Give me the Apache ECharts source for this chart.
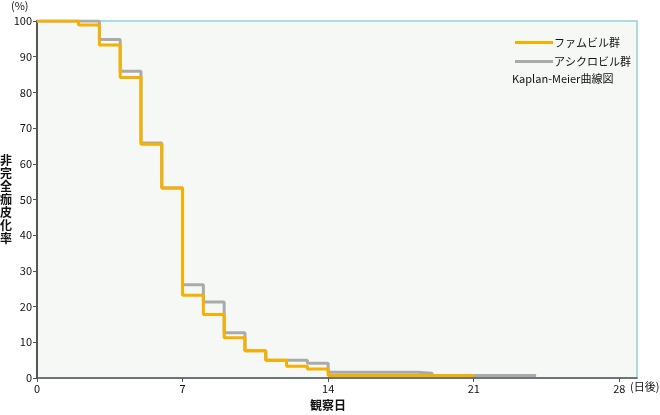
<!DOCTYPE html>
<html>
<head>
<meta charset="utf-8">
<script src="https://cdn.jsdelivr.net/npm/echarts@6/dist/echarts.min.js"></script>
<style>
html,body{margin:0;padding:0;background:#fff;}
#chart{width:660px;height:415px;}
</style>
</head>
<body>
<div id="chart"></div>
<script>
// Data
var famDays = [0, 2, 3, 4, 5, 6, 7, 8, 9, 10, 11, 12, 13, 14, 21];
var famValues = [100, 98.9, 93.3, 84.2, 65.5, 53.2, 23.2, 17.8, 11.3, 7.6, 5.0, 3.3, 2.5, 0.7, 0.7];
var acyDays = [0, 3, 4, 5, 6, 7, 8, 9, 10, 11, 13, 14, 18.3, 19, 24];
var acyValues = [100, 94.8, 85.9, 65.8, 53.2, 26.1, 21.3, 12.7, 7.6, 5.0, 4.1, 1.6, 1.3, 0.7, 0.7];
var xTicks = [0, 7, 14, 21, 28];
var seriesNames = ['ファムビル群', 'アシクロビル群'];

function pairs(xs, ys) { return xs.map(function (x, i) { return [x, ys[i]]; }); }

var FONT = '"Noto Sans CJK JP", sans-serif';
var chart = echarts.init(document.getElementById('chart'), null, {renderer: 'canvas'});
chart.setOption({
  animation: false,
  backgroundColor: '#ffffff',
  grid: {
    left: 37, right: 23, top: 21, bottom: 37,
    show: true, backgroundColor: '#f5f8f5', borderColor: '#93d4d2', borderWidth: 1.5
  },
  legend: {
    data: seriesNames,
    orient: 'vertical',
    left: 510, top: 32,
    itemWidth: 38, itemHeight: 3, itemGap: 8,
    icon: 'rect',
    textStyle: {fontFamily: FONT, fontSize: 11, color: '#111', padding: [0, 0, 0, -4]}
  },
  xAxis: {
    type: 'value', min: 0, max: 28.85, interval: 7,
    axisLine: {show: true, lineStyle: {color: '#555', width: 1.5}},
    axisTick: {show: true, length: 4, lineStyle: {color: '#555'}},
    splitLine: {show: false},
    axisLabel: {
      fontFamily: FONT, fontSize: 11, color: '#111', margin: 5,
      showMaxLabel: false,
      formatter: function (v) { return xTicks.indexOf(v) >= 0 ? String(v) : ''; }
    }
  },
  yAxis: {
    type: 'value', min: 0, max: 100, interval: 10,
    axisLine: {show: true, lineStyle: {color: '#555', width: 2}},
    axisTick: {show: true, length: 4, lineStyle: {color: '#555'}},
    splitLine: {show: false},
    axisLabel: {fontFamily: FONT, fontSize: 11, color: '#111', margin: 5}
  },
  series: [
    {
      name: seriesNames[1], type: 'line', step: 'end', showSymbol: false,
      data: pairs(acyDays, acyValues),
      lineStyle: {color: '#aaaaaa', width: 3}, itemStyle: {color: '#aaaaaa'}
    },
    {
      name: seriesNames[0], type: 'line', step: 'end', showSymbol: false,
      data: pairs(famDays, famValues),
      lineStyle: {color: '#f6b000', width: 3}, itemStyle: {color: '#f6b000'}
    }
  ],
  graphic: [
    {type: 'text', left: 11, top: 0, style: {text: '(%)', font: '11px ' + FONT, fill: '#111'}},
    {type: 'text', left: 0, top: 154, style: {text: '非\n完\n全\n痂\n皮\n化\n率', font: 'bold 12px ' + FONT, fill: '#111', lineHeight: 13}},
    {type: 'text', left: 310, top: 399, style: {text: '観察日', font: 'bold 12px ' + FONT, fill: '#111'}},
    {type: 'text', left: 630, top: 381, style: {text: '(日後)', font: '11px ' + FONT, fill: '#111'}},
    {type: 'text', left: 512, top: 73, style: {text: 'Kaplan-Meier曲線図', font: '11px ' + FONT, fill: '#111'}}
  ]
});
</script>
</body>
</html>
